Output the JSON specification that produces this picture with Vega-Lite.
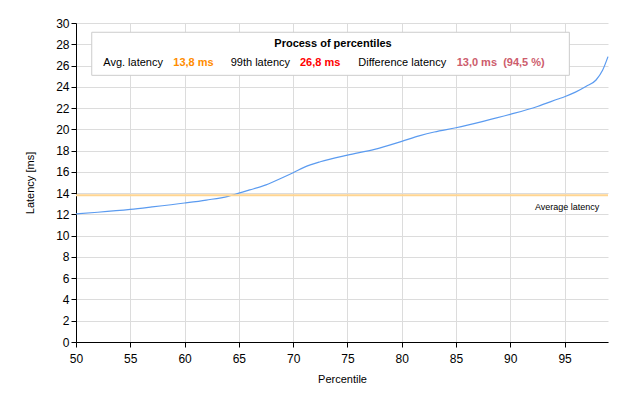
{
  "$schema": "https://vega.github.io/schema/vega-lite/v6.json",
  "width": 532,
  "height": 319,
  "autosize": "none",
  "padding": {"left": 76, "top": 23, "right": 20, "bottom": 62},
  "background": "white",
  "config": {
    "view": {"stroke": null},
    "font": "Liberation Sans",
    "axis": {
      "gridColor": "#dcdcdc",
      "gridWidth": 1,
      "domainColor": "#000000",
      "tickColor": "#000000",
      "tickSize": 5,
      "labelColor": "#000000",
      "labelFontSize": 12,
      "labelFont": "Liberation Sans",
      "labelOverlap": false,
      "labelFlush": false,
      "titleFont": "Liberation Sans",
      "titleFontSize": 11,
      "titleFontWeight": "normal",
      "titleColor": "#000000"
    },
    "axisY": {"titlePadding": 20, "labelPadding": 2},
    "axisX": {"titlePadding": 9, "labelPadding": 6}
  },
  "data": {
    "values": [
      {"percentile": 50, "latency": 12.05},
      {"percentile": 52, "latency": 12.2},
      {"percentile": 55, "latency": 12.47},
      {"percentile": 57, "latency": 12.7},
      {"percentile": 60, "latency": 13.07},
      {"percentile": 62, "latency": 13.35},
      {"percentile": 64, "latency": 13.7},
      {"percentile": 65, "latency": 14.0},
      {"percentile": 66, "latency": 14.3},
      {"percentile": 67.5, "latency": 14.78},
      {"percentile": 69, "latency": 15.45},
      {"percentile": 70, "latency": 15.92},
      {"percentile": 71, "latency": 16.42},
      {"percentile": 72.5, "latency": 16.95},
      {"percentile": 75, "latency": 17.58},
      {"percentile": 77.5, "latency": 18.12},
      {"percentile": 80, "latency": 18.87},
      {"percentile": 81.6, "latency": 19.38},
      {"percentile": 83, "latency": 19.75},
      {"percentile": 85, "latency": 20.15},
      {"percentile": 87.5, "latency": 20.75},
      {"percentile": 90, "latency": 21.41},
      {"percentile": 92.5, "latency": 22.15},
      {"percentile": 94.4, "latency": 22.85},
      {"percentile": 95, "latency": 23.07},
      {"percentile": 96, "latency": 23.5},
      {"percentile": 97, "latency": 24.05},
      {"percentile": 97.9, "latency": 24.64},
      {"percentile": 98.5, "latency": 25.55},
      {"percentile": 99, "latency": 26.84}
    ]
  },
  "layer": [
    {
      "mark": {"type": "line", "color": "#5b9bf0", "strokeWidth": 1.2, "interpolate": "monotone"},
      "encoding": {
        "x": {"field": "percentile", "type": "quantitative",
          "scale": {"domain": [50, 99], "nice": false, "zero": false},
          "axis": {"values": [50,55,60,65,70,75,80,85,90,95], "tickCount": 20, "title": "Percentile"}},
        "y": {"field": "latency", "type": "quantitative", "scale": {"domain": [0, 30], "nice": false},
          "axis": {"values": [0,2,4,6,8,10,12,14,16,18,20,22,24,26,28,30], "tickCount": 32, "title": "Latency [ms]"}}
      }
    },
    {
      "data": {"values": [{}]},
      "mark": {"type": "rule", "color": "#ffd591", "strokeWidth": 2},
      "encoding": {
        "y": {"datum": 13.8, "type": "quantitative"}
      }
    },
    {
      "data": {"values": [{}]},
      "mark": {"type": "text", "text": "Average latency", "align": "right", "baseline": "alphabetic", "fontSize": 9, "color": "#000000"},
      "encoding": {"x": {"datum": 98.2, "type": "quantitative"}, "y": {"datum": 12.41, "type": "quantitative"}}
    },
    {
      "data": {"values": [{}]},
      "mark": {"type": "rect", "fill": "white", "stroke": "#cccccc", "strokeWidth": 1},
      "encoding": {
        "x": {"datum": 51.45, "type": "quantitative"}, "x2": {"datum": 95.44},
        "y": {"datum": 29.13, "type": "quantitative"}, "y2": {"datum": 25.08}
      }
    },
    {
      "data": {"values": [{}]},
      "mark": {"type": "text", "text": "Process of percentiles", "align": "center", "baseline": "alphabetic", "fontSize": 11, "fontWeight": "bold", "color": "#000000"},
      "encoding": {"x": {"datum": 73.67, "type": "quantitative"}, "y": {"datum": 27.72, "type": "quantitative"}}
    },
    {
      "data": {"values": [{}]},
      "mark": {"type": "text", "text": "Avg. latency", "align": "left", "baseline": "alphabetic", "fontSize": 11, "color": "#000000"},
      "encoding": {"x": {"datum": 52.51, "type": "quantitative"}, "y": {"datum": 25.96, "type": "quantitative"}}
    },
    {
      "data": {"values": [{}]},
      "mark": {"type": "text", "text": "13,8 ms", "align": "left", "baseline": "alphabetic", "fontSize": 11, "fontWeight": "bold", "color": "#ff8c00"},
      "encoding": {"x": {"datum": 58.96, "type": "quantitative"}, "y": {"datum": 25.96, "type": "quantitative"}}
    },
    {
      "data": {"values": [{}]},
      "mark": {"type": "text", "text": "99th latency", "align": "left", "baseline": "alphabetic", "fontSize": 11, "color": "#000000"},
      "encoding": {"x": {"datum": 64.25, "type": "quantitative"}, "y": {"datum": 25.96, "type": "quantitative"}}
    },
    {
      "data": {"values": [{}]},
      "mark": {"type": "text", "text": "26,8 ms", "align": "left", "baseline": "alphabetic", "fontSize": 11, "fontWeight": "bold", "color": "#ff0000"},
      "encoding": {"x": {"datum": 70.63, "type": "quantitative"}, "y": {"datum": 25.96, "type": "quantitative"}}
    },
    {
      "data": {"values": [{}]},
      "mark": {"type": "text", "text": "Difference latency", "align": "left", "baseline": "alphabetic", "fontSize": 11, "color": "#000000"},
      "encoding": {"x": {"datum": 76.0, "type": "quantitative"}, "y": {"datum": 25.96, "type": "quantitative"}}
    },
    {
      "data": {"values": [{}]},
      "mark": {"type": "text", "text": "13,0 ms \u00a0(94,5 %)", "align": "left", "baseline": "alphabetic", "fontSize": 11, "fontWeight": "bold", "color": "#cd5c6c"},
      "encoding": {"x": {"datum": 85.06, "type": "quantitative"}, "y": {"datum": 25.96, "type": "quantitative"}}
    }
  ]
}
